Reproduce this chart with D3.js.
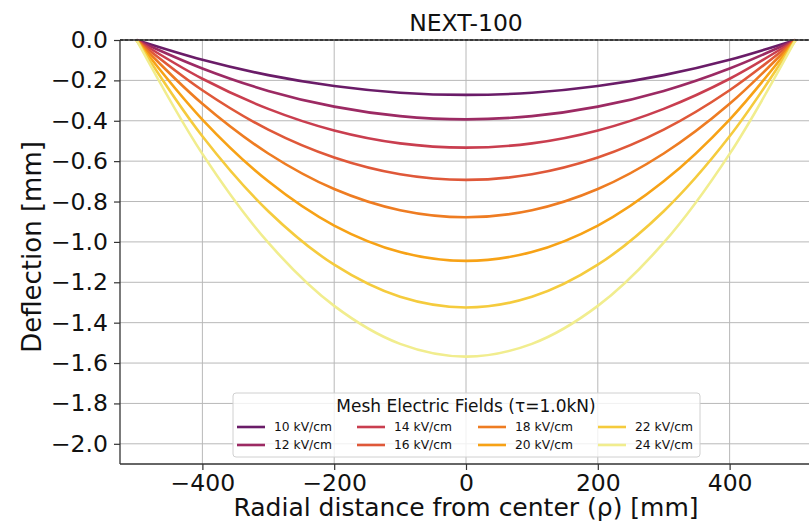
<!DOCTYPE html>
<html>
<head>
<meta charset="utf-8">
<script src="https://cdn.jsdelivr.net/npm/d3@7"></script>
<style>
  body { margin: 0; background: #fff; }
  text { font-family: "DejaVu Sans", sans-serif; fill: #111; }
</style>
</head>
<body>
<div id="myDiv"></div>
<script>
var rho = [-500, -400, -300, -200, -100, 0, 100, 200, 300, 400, 500];

// Field labels (legend order)
var fields = ["10 kV/cm", "12 kV/cm", "14 kV/cm", "16 kV/cm", "18 kV/cm", "20 kV/cm", "22 kV/cm", "24 kV/cm"];

// Deflection values (mm), one array per field
var defl10 = [0, -0.098, -0.174, -0.228, -0.261, -0.272, -0.261, -0.228, -0.174, -0.098, 0];
var defl12 = [0, -0.141, -0.252, -0.330, -0.377, -0.393, -0.377, -0.330, -0.252, -0.141, 0];
var defl14 = [0, -0.192, -0.341, -0.448, -0.512, -0.533, -0.512, -0.448, -0.341, -0.192, 0];
var defl16 = [0, -0.249, -0.444, -0.582, -0.665, -0.693, -0.665, -0.582, -0.444, -0.249, 0];
var defl18 = [0, -0.316, -0.562, -0.738, -0.843, -0.878, -0.843, -0.738, -0.562, -0.316, 0];
var defl20 = [0, -0.394, -0.700, -0.919, -1.050, -1.094, -1.050, -0.919, -0.700, -0.394, 0];
var defl22 = [0, -0.477, -0.848, -1.113, -1.272, -1.325, -1.272, -1.113, -0.848, -0.477, 0];
var defl24 = [0, -0.564, -1.004, -1.317, -1.505, -1.568, -1.505, -1.317, -1.004, -0.564, 0];

var xTicks = [-400, -200, 0, 200, 400];
var yTicks = [0, -0.2, -0.4, -0.6, -0.8, -1.0, -1.2, -1.4, -1.6, -1.8, -2.0];

var series = [defl10, defl12, defl14, defl16, defl18, defl20, defl22, defl24];
var colors = ["#6a1c68", "#9c2a63", "#c93e4f", "#df5839", "#ee7c22", "#f7a216", "#f5cb3d", "#f1ed8e"];

var width = 809, height = 525;

var svg = d3.select("#myDiv").append("svg")
  .attr("width", width)
  .attr("height", height);

var x = d3.scaleLinear().domain([-525, 525]).range([120, 812]);
var y = d3.scaleLinear().domain([-2.1, 0]).range([464, 40]);

var fmtMinus = function (s) { return s.replace("-", "\u2212"); };

// grid
svg.append("g").selectAll("line.gx")
  .data(xTicks)
  .enter().append("line")
  .attr("x1", function (d) { return x(d); })
  .attr("x2", function (d) { return x(d); })
  .attr("y1", y(0)).attr("y2", y(-2.1))
  .attr("stroke", "#b8b8b8").attr("stroke-width", 1);

svg.append("g").selectAll("line.gy")
  .data(yTicks)
  .enter().append("line")
  .attr("x1", x(-525)).attr("x2", x(525))
  .attr("y1", function (d) { return y(d); })
  .attr("y2", function (d) { return y(d); })
  .attr("stroke", "#b8b8b8").attr("stroke-width", 1);

// curves
var line = d3.line()
  .x(function (d) { return x(d[0]); })
  .y(function (d) { return y(d[1]); })
  .curve(d3.curveCatmullRom.alpha(0.5));

series.forEach(function (vals, i) {
  svg.append("path")
    .datum(rho.map(function (r, j) { return [r, vals[j]]; }))
    .attr("d", line)
    .attr("fill", "none")
    .attr("stroke", colors[i])
    .attr("stroke-width", 2.6);
});

// zero reference line
svg.append("line")
  .attr("x1", x(-525)).attr("x2", x(525))
  .attr("y1", y(0)).attr("y2", y(0))
  .attr("stroke", "#222").attr("stroke-width", 1.3)
  .attr("stroke-dasharray", "3,2");

// spines
svg.append("line").attr("x1", 120).attr("x2", 120).attr("y1", 40).attr("y2", 464)
  .attr("stroke", "#333").attr("stroke-width", 1.3);
svg.append("line").attr("x1", 120).attr("x2", 812).attr("y1", 464).attr("y2", 464)
  .attr("stroke", "#333").attr("stroke-width", 1.3);
svg.append("line").attr("x1", 120).attr("x2", 812).attr("y1", 40).attr("y2", 40)
  .attr("stroke", "#333").attr("stroke-width", 1.3);

// axes
var yAxis = svg.append("g")
  .attr("transform", "translate(120,0)")
  .call(d3.axisLeft(y).tickValues(yTicks).tickSize(6).tickPadding(6)
    .tickFormat(function (d) { return fmtMinus(d3.format(".1f")(d)); }));
yAxis.select(".domain").remove();
yAxis.selectAll("line").attr("stroke", "#333").attr("stroke-width", 1.2);
yAxis.selectAll("text").attr("font-size", "23.5px").attr("font-family", "DejaVu Sans").attr("fill", "#111");

var xAxis = svg.append("g")
  .attr("transform", "translate(0,464)")
  .call(d3.axisBottom(x).tickValues(xTicks).tickSize(6).tickPadding(4)
    .tickFormat(function (d) { return fmtMinus(String(d)); }));
xAxis.select(".domain").remove();
xAxis.selectAll("line").attr("stroke", "#333").attr("stroke-width", 1.2);
xAxis.selectAll("text").attr("font-size", "23.5px").attr("font-family", "DejaVu Sans").attr("fill", "#111");

// labels
svg.append("text")
  .attr("x", x(0)).attr("y", 31)
  .attr("text-anchor", "middle")
  .attr("font-size", "23.5px")
  .text("NEXT-100");

svg.append("text")
  .attr("x", x(0)).attr("y", 516)
  .attr("text-anchor", "middle")
  .attr("font-size", "25px")
  .text("Radial distance from center (\u03c1) [mm]");

svg.append("text")
  .attr("transform", "translate(41,247) rotate(-90)")
  .attr("text-anchor", "middle")
  .attr("font-size", "26px")
  .text("Deflection [mm]");

// legend
var lg = svg.append("g");
lg.append("rect")
  .attr("x", 233).attr("y", 393).attr("width", 467).attr("height", 64)
  .attr("rx", 3)
  .attr("fill", "#fff").attr("fill-opacity", 0.8)
  .attr("stroke", "#d0d0d0");

lg.append("text")
  .attr("x", 466).attr("y", 412)
  .attr("text-anchor", "middle")
  .attr("font-size", "17px")
  .text("Mesh Electric Fields (\u03c4=1.0kN)");

var colX = [237, 357, 478, 598];
var rowY = [427, 445];
fields.forEach(function (f, i) {
  var cx = colX[Math.floor(i / 2)], cy = rowY[i % 2];
  lg.append("line")
    .attr("x1", cx).attr("x2", cx + 28)
    .attr("y1", cy).attr("y2", cy)
    .attr("stroke", colors[i]).attr("stroke-width", 2.6);
  lg.append("text")
    .attr("x", cx + 37).attr("y", cy)
    .attr("dy", "0.35em")
    .attr("font-size", "12.3px")
    .text(f);
});
</script>
</body>
</html>
